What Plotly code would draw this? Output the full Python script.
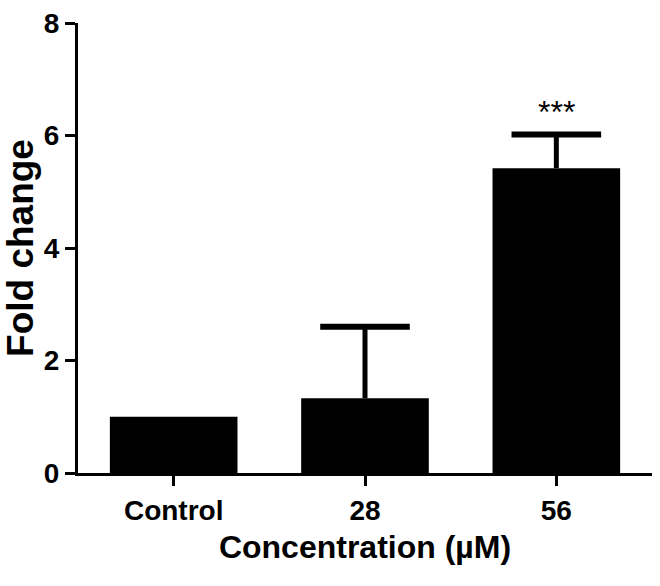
import plotly.graph_objects as go

categories = ["Control", "28", "56"]
fold_change = [1.0, 1.33, 5.42]
error_upper = [0.0, 1.27, 0.60]
significance = ["", "", "***"]

FONT = "Liberation Sans, Arial, sans-serif"

fig = go.Figure()
fig.add_trace(go.Bar(
    x=categories,
    y=fold_change,
    width=0.667,
    marker=dict(color="black", line=dict(width=0)),
    error_y=dict(type="data", symmetric=False, array=error_upper,
                 arrayminus=[0] * len(categories), color="black",
                 thickness=5, width=0),
    showlegend=False,
    hoverinfo="skip",
))

# caps of the error bars (upper end only)
cap_x = [c for c, e in zip(categories, error_upper) if e > 0]
cap_y = [v + e for v, e in zip(fold_change, error_upper) if e > 0]
fig.add_trace(go.Scatter(
    x=cap_x, y=cap_y, mode="markers",
    marker=dict(symbol="line-ew", size=64, color="black",
                line=dict(color="black", width=6)),
    showlegend=False, hoverinfo="skip", cliponaxis=False,
))

for i, (v, e, s) in enumerate(zip(fold_change, error_upper, significance)):
    if s:
        fig.add_annotation(x=i, y=v + e, text=s, showarrow=False,
                           xref="x", yref="y",
                           yanchor="bottom", yshift=2,
                           font=dict(family=FONT, size=32, color="black"))

fig.update_layout(
    width=660, height=586,
    margin=dict(l=76, r=8, t=17, b=113),
    paper_bgcolor="white", plot_bgcolor="white",
    font=dict(family=FONT, color="black"),
    xaxis=dict(
        type="category",
        range=[-0.5, 2.5], showline=True, linewidth=3, linecolor="black",
        ticks="outside", ticklen=10, tickwidth=3, tickcolor="black",
        tickfont=dict(family=FONT, size=28, color="black", weight="bold"),
        title=dict(text="Concentration (µM)", standoff=12,
                   font=dict(family=FONT, size=32, color="black", weight="bold")),
        showgrid=False, zeroline=False,
    ),
    yaxis=dict(
        range=[0, 8], dtick=2, showline=True, linewidth=3, linecolor="black",
        ticks="outside", ticklen=10, tickwidth=3, tickcolor="black",
        tickfont=dict(family=FONT, size=28, color="black", weight="bold"),
        title=dict(text="Fold change", standoff=10,
                   font=dict(family=FONT, size=37, color="black", weight="bold")),
        showgrid=False, zeroline=False,
    ),
)

fig.write_html("out.html")
